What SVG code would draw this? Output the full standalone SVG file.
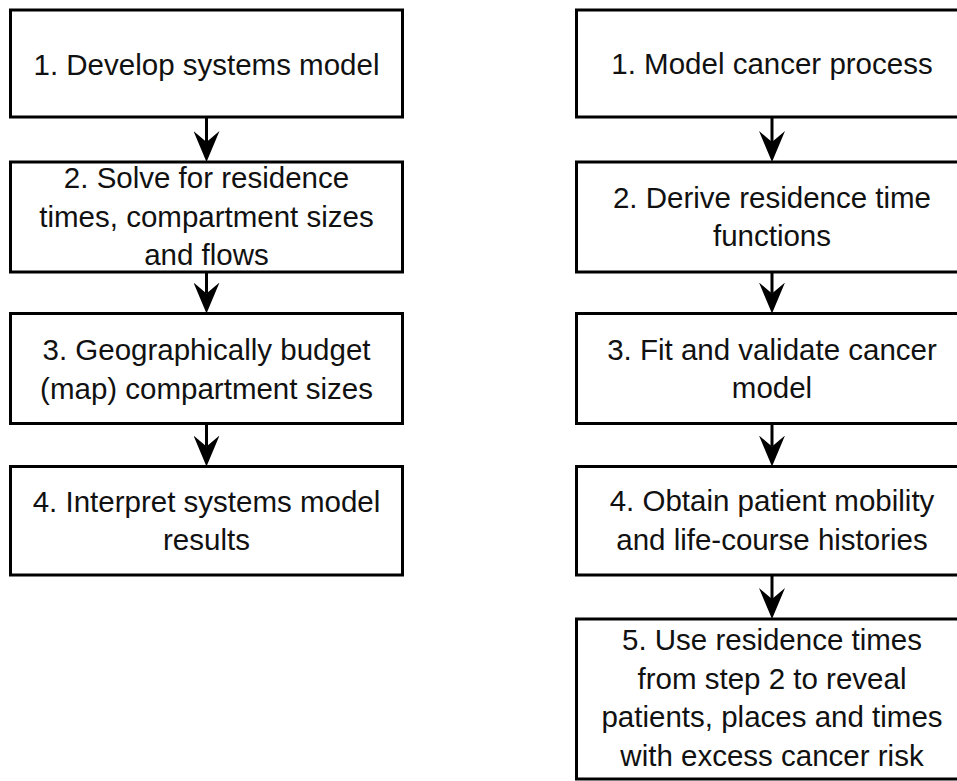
<svg xmlns="http://www.w3.org/2000/svg" width="957" height="781" viewBox="0 0 957 781">
<defs>
<style>
.box{fill:#fff;stroke:#000;stroke-width:3}
.t{font-family:"Liberation Sans",Arial,sans-serif;font-size:29.5px;fill:#111;text-anchor:middle}
.c{stroke:#000;stroke-width:3;fill:none}
</style>
<marker id="ah" viewBox="-31 -13 31 26" refX="-20" refY="0" markerWidth="31" markerHeight="26" markerUnits="userSpaceOnUse" orient="auto">
<path d="M0,0 L-31,-13 L-20,0 L-31,13 Z" fill="#000"/>
</marker>
</defs>
<rect width="957" height="781" fill="#fff"/>
<g id="L1"><rect class="box" x="10.5" y="10" width="392" height="107"/><text class="t" x="206.5" y="75">1. Develop systems model</text></g>
<g id="L2"><rect class="box" x="10.5" y="162" width="392" height="110"/><text class="t" x="206.5" y="188">2. Solve for residence</text><text class="t" x="206.5" y="226.5">times, compartment sizes</text><text class="t" x="206.5" y="265">and flows</text></g>
<g id="L3"><rect class="box" x="10.5" y="313.5" width="392" height="110"/><text class="t" x="206.5" y="360">3. Geographically budget</text><text class="t" x="206.5" y="398.5">(map) compartment sizes</text></g>
<g id="L4"><rect class="box" x="10.5" y="466.5" width="392" height="108.5"/><text class="t" x="206.5" y="512">4. Interpret systems model</text><text class="t" x="206.5" y="550">results</text></g>
<g id="R1"><rect class="box" x="576.5" y="10" width="391" height="107"/><text class="t" x="772" y="74">1. Model cancer process</text></g>
<g id="R2"><rect class="box" x="576.5" y="162" width="391" height="110"/><text class="t" x="772" y="208">2. Derive residence time</text><text class="t" x="772" y="246">functions</text></g>
<g id="R3"><rect class="box" x="576.5" y="313.5" width="391" height="110"/><text class="t" x="772" y="359.5">3. Fit and validate cancer</text><text class="t" x="772" y="398">model</text></g>
<g id="R4"><rect class="box" x="576.5" y="466.5" width="391" height="108.5"/><text class="t" x="772" y="511">4. Obtain patient mobility</text><text class="t" x="772" y="550">and life-course histories</text></g>
<g id="R5"><rect class="box" x="576.5" y="619" width="391" height="160"/><text class="t" x="772" y="650">5. Use residence times</text><text class="t" x="772" y="688.5">from step 2 to reveal</text><text class="t" x="772" y="727">patients, places and times</text><text class="t" x="772" y="765.5">with excess cancer risk</text></g>
<g id="connectors">
<path class="c" marker-end="url(#ah)" d="M206.5,117 V142"/>
<path class="c" marker-end="url(#ah)" d="M206.5,272 V293.5"/>
<path class="c" marker-end="url(#ah)" d="M206.5,423.5 V446.5"/>
<path class="c" marker-end="url(#ah)" d="M772,117 V142"/>
<path class="c" marker-end="url(#ah)" d="M772,272 V293.5"/>
<path class="c" marker-end="url(#ah)" d="M772,423.5 V446.5"/>
<path class="c" marker-end="url(#ah)" d="M772,575 V599"/>
</g>
</svg>
